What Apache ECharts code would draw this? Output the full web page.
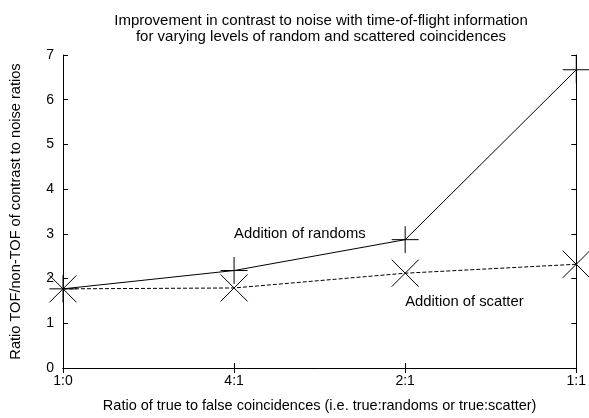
<!DOCTYPE html>
<html>
<head>
<meta charset="utf-8">
<script src="https://cdn.jsdelivr.net/npm/echarts@6/dist/echarts.min.js"></script>
<style>
html,body{margin:0;padding:0;background:#fff;}
#chart{width:589px;height:418px;}
</style>
</head>
<body>
<div id="chart"></div>
<script>
var categories = ['1:0', '4:1', '2:1', '1:1'];
var randomsValues = [1.77, 2.18, 2.87, 6.67];
var scatterValues = [1.77, 1.79, 2.12, 2.32];
var yTicks = [0, 1, 2, 3, 4, 5, 6, 7];
var titleLines = ['Improvement in contrast to noise with time-of-flight information',
                  'for varying levels of random and scattered coincidences'];
var xTitle = 'Ratio of true to false coincidences (i.e. true:randoms or true:scatter)';
var yTitle = 'Ratio TOF/non-TOF of contrast to noise ratios';
var randomsLabel = 'Addition of randoms';
var scatterLabel = 'Addition of scatter';
var randomsLabelAt = ['4:1', 3.0];
var scatterLabelAt = ['2:1', 1.48];

var FONT = 'Liberation Sans, Arial, sans-serif';
var chart = echarts.init(document.getElementById('chart'), null, {renderer: 'canvas'});

var plusPath = 'path://M5,0 L5,10 M0,5 L10,5';
var crossPath = 'path://M0,0 L10,10 M10,0 L0,10';

var option = {
  animation: false,
  backgroundColor: '#fff',
  textStyle: {fontFamily: FONT, color: '#000'},
  title: {
    text: titleLines.join('\n'),
    left: 316,
    top: 8,
    textAlign: 'center',
    textStyle: {fontFamily: FONT, fontSize: 15, fontWeight: 'normal', color: '#000', lineHeight: 16}
  },
  grid: {left: 61, right: 8, top: 55, bottom: 46, containLabel: false},
  xAxis: [{
    type: 'category',
    data: categories,
    boundaryGap: false,
    position: 'bottom',
    axisLine: {lineStyle: {color: '#000', width: 1}},
    axisTick: {inside: true, length: 5, lineStyle: {color: '#000'}},
    axisLabel: {fontFamily: FONT, fontSize: 14, color: '#000', margin: 6},
    splitLine: {show: false},
    name: xTitle,
    nameLocation: 'middle',
    nameGap: 30,
    nameTextStyle: {fontFamily: FONT, fontSize: 14.5, color: '#000'}
  }, {
    type: 'category',
    data: categories,
    boundaryGap: false,
    position: 'top',
    axisLine: {lineStyle: {color: '#000', width: 1}},
    axisTick: {inside: true, length: 5, lineStyle: {color: '#000'}},
    axisLabel: {show: false},
    splitLine: {show: false}
  }],
  yAxis: [{
    type: 'value',
    min: yTicks[0],
    max: yTicks[yTicks.length - 1],
    interval: 1,
    position: 'left',
    axisLine: {show: true, lineStyle: {color: '#000', width: 1}},
    axisTick: {show: true, inside: true, length: 5, lineStyle: {color: '#000'}},
    axisLabel: {fontFamily: FONT, fontSize: 14, color: '#000', margin: 9},
    splitLine: {show: false},
    name: yTitle,
    nameLocation: 'middle',
    nameGap: 40,
    nameTextStyle: {fontFamily: FONT, fontSize: 14.6, color: '#000'}
  }, {
    type: 'value',
    min: yTicks[0],
    max: yTicks[yTicks.length - 1],
    interval: 1,
    position: 'right',
    axisLine: {show: true, lineStyle: {color: '#000', width: 1}},
    axisTick: {show: true, inside: true, length: 5, lineStyle: {color: '#000'}},
    axisLabel: {show: false},
    splitLine: {show: false}
  }],
  series: [{
    name: 'randoms',
    type: 'line',
    data: randomsValues,
    clip: false,
    symbol: plusPath,
    symbolSize: 27,
    showAllSymbol: true,
    lineStyle: {color: '#000', width: 1, type: 'solid'},
    itemStyle: {color: 'rgba(0,0,0,0)', borderColor: '#000', borderWidth: 1},
    markPoint: {
      symbol: 'circle',
      symbolSize: 0,
      data: [{coord: randomsLabelAt, value: randomsLabel}],
      label: {show: true, position: [0, 0], align: 'left', verticalAlign: 'middle',
        formatter: randomsLabel, fontFamily: FONT, fontSize: 14.8, color: '#000'}
    }
  }, {
    name: 'scatter',
    type: 'line',
    data: scatterValues,
    clip: false,
    symbol: crossPath,
    symbolSize: 27,
    showAllSymbol: true,
    lineStyle: {color: '#000', width: 1, type: [4, 2]},
    itemStyle: {color: 'rgba(0,0,0,0)', borderColor: '#000', borderWidth: 1},
    markPoint: {
      symbol: 'circle',
      symbolSize: 0,
      data: [{coord: scatterLabelAt, value: scatterLabel}],
      label: {show: true, position: [0, 0], align: 'left', verticalAlign: 'middle',
        formatter: scatterLabel, fontFamily: FONT, fontSize: 14.8, color: '#000'}
    }
  }]
};
chart.setOption(option);
</script>
</body>
</html>
